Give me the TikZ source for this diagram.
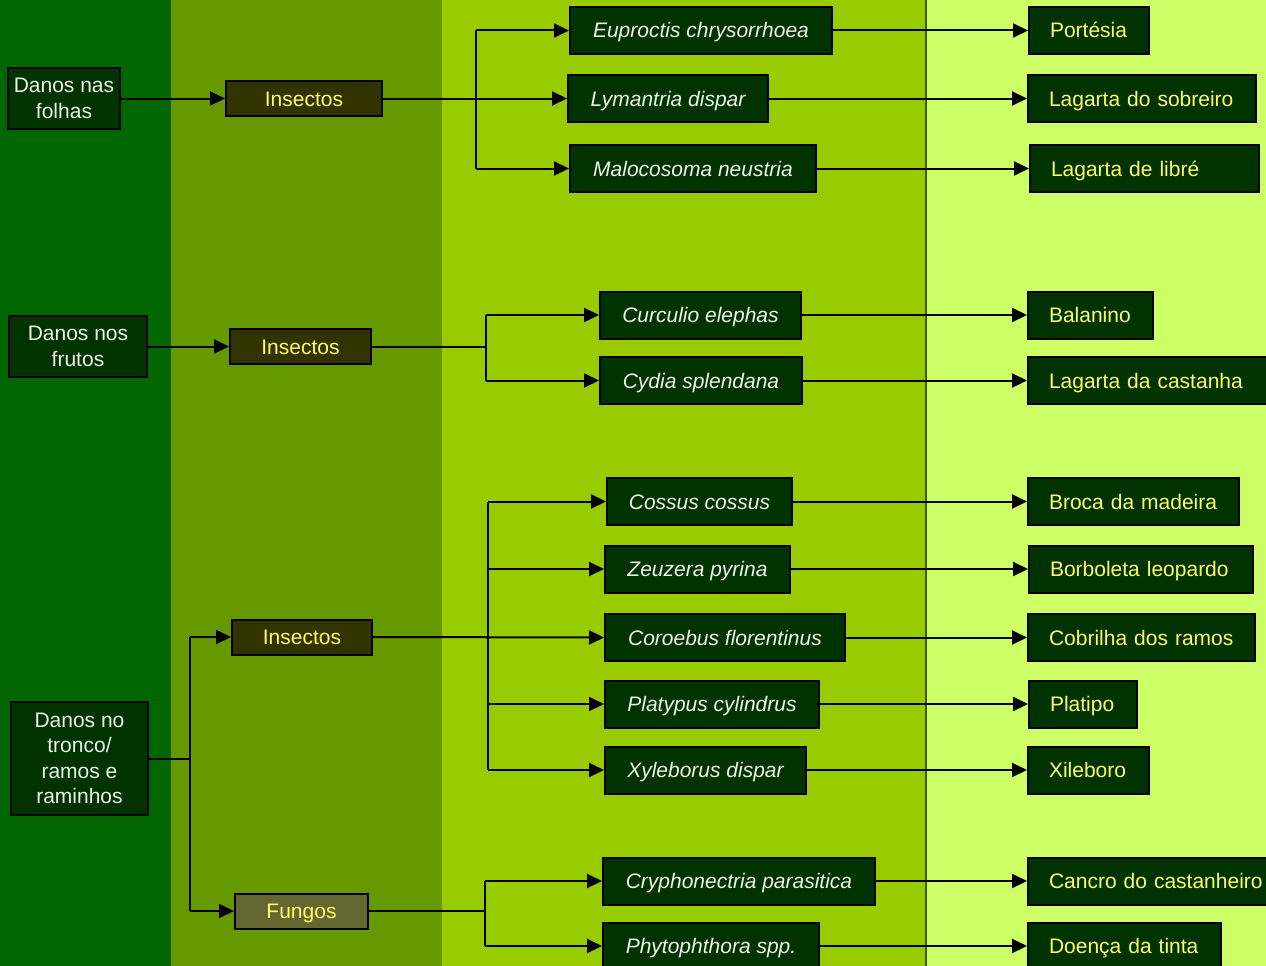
\documentclass[tikz,border=0pt]{standalone}
\usepackage{fontspec}
\setmainfont{Liberation Sans}
\usetikzlibrary{arrows.meta}
\definecolor{colA}{HTML}{006600}
\definecolor{colB}{HTML}{669900}
\definecolor{colC}{HTML}{99CC00}
\definecolor{colD}{HTML}{CCFF66}
\definecolor{boxg}{HTML}{003300}
\definecolor{boxi}{HTML}{333300}
\definecolor{boxf}{HTML}{666633}
\definecolor{txtw}{HTML}{EEF4E8}
\definecolor{txty}{HTML}{FFFF66}
\definecolor{divline}{HTML}{3D5C00}
\tikzset{
  bx/.style={draw=black, line width=2pt, inner sep=0pt, align=center,
    font=\fontsize{21}{25.5}\selectfont},
  one/.style={text height=15pt, text depth=0pt},
  lft/.style={bx, fill=boxg, text=txtw},
  ins/.style={bx, one, fill=boxi, text=txty, minimum height=35pt},
  fun/.style={bx, one, fill=boxf, text=txty, minimum height=35pt},
  spc/.style={bx, one, fill=boxg, text=txtw, minimum height=47pt, font=\fontsize{21}{25.5}\selectfont\itshape},
  com/.style={bx, one, fill=boxg, text=txty, minimum height=47pt, align=left, inner xsep=21pt, anchor=west},
  ln/.style={line width=2pt, draw=black},
  conn/.style={ln, -{Triangle[length=15pt,width=14pt]}}
}
\begin{document}
\begin{tikzpicture}[x=1pt,y=-1pt]
\clip (0,0) rectangle (1266,966);
% background columns
\fill[colA] (0,0) rectangle (171,966);
\fill[colB] (171,0) rectangle (442,966);
\fill[colC] (442,0) rectangle (926,966);
\fill[colD] (926,0) rectangle (1266,966);
\draw[divline, line width=1.2pt] (926,0) -- (926,966);

% left column
\node[lft, minimum width=112pt, minimum height=61pt] (f1) at (64,98.5) {Danos nas\\folhas};
\node[lft, minimum width=138pt, minimum height=61pt] (f2) at (78,346.5) {Danos nos\\frutos};
\node[lft, minimum width=137pt, minimum height=113pt] (f3) at (79.5,758.5) {Danos no\\tronco/\\ramos e\\raminhos};

% second column
\node[ins, minimum width=156pt] (i1) at (304,98.5) {Insectos};
\node[ins, minimum width=141pt] (i2) at (300.5,346.5) {Insectos};
\node[ins, minimum width=140pt] (i3) at (302,637) {Insectos};
\node[fun, minimum width=133pt] (g1) at (301.5,911) {Fungos};

% species
\node[spc, minimum width=262pt] (s1) at (701,30.5) {Euproctis chrysorrhoea};
\node[spc, minimum width=200pt] (s2) at (668,98.5) {Lymantria dispar};
\node[spc, minimum width=246pt] (s3) at (693,168.5) {Malocosoma neustria};
\node[spc, minimum width=201pt] (s4) at (700.5,315) {Curculio elephas};
\node[spc, minimum width=202pt] (s5) at (701,380.5) {Cydia splendana};
\node[spc, minimum width=185pt] (s6) at (699.5,501.5) {Cossus cossus};
\node[spc, minimum width=185pt] (s7) at (697.5,569) {Zeuzera pyrina};
\node[spc, minimum width=240pt] (s8) at (725,637.5) {Coroebus florentinus};
\node[spc, minimum width=214pt] (s9) at (712,704) {Platypus cylindrus};
\node[spc, minimum width=201pt] (s10) at (705.5,770) {Xyleborus dispar};
\node[spc, minimum width=272pt] (s11) at (739,881) {Cryphonectria parasitica};
\node[spc, minimum width=216pt] (s12) at (711,946) {Phytophthora spp.};

% common names (left-aligned text, west anchored)
\node[com, text width=78pt] (c1) at (1028,30.5) {\mbox{Portésia}};
\node[com, text width=186pt] (c2) at (1027,98.5) {\mbox{Lagarta do sobreiro}};
\node[com, text width=187pt] (c3) at (1029,168.5) {\mbox{Lagarta de libré}};
\node[com, text width=83pt] (c4) at (1027,315) {\mbox{Balanino}};
\node[com, text width=198pt] (c5) at (1027,380.5) {\mbox{Lagarta da castanha}};
\node[com, text width=169pt] (c6) at (1027,501.5) {\mbox{Broca da madeira}};
\node[com, text width=182pt] (c7) at (1028,569) {\mbox{Borboleta leopardo}};
\node[com, text width=185pt] (c8) at (1027,637.5) {\mbox{Cobrilha dos ramos}};
\node[com, text width=66pt] (c9) at (1028,704) {\mbox{Platipo}};
\node[com, text width=79pt] (c10) at (1027,770) {\mbox{Xileboro}};
\node[com, text width=216pt] (c11) at (1027,881) {\mbox{Cancro do castanheiro}};
\node[com, text width=151pt] (c12) at (1027,946) {\mbox{Doença da tinta}};

% branch coordinates
\coordinate (b1) at (476,0);
\coordinate (b2) at (486,0);
\coordinate (b3) at (488,0);
\coordinate (b4) at (485,0);
\coordinate (b0) at (190,0);

% group 1
\draw[conn] (f1.east) -- (i1.west);
\draw[conn] (i1.east) -- (s2.west);
\draw[ln] (b1 |- s1.west) -- (b1 |- s3.west);
\draw[conn] (b1 |- s1.west) -- (s1.west);
\draw[conn] (b1 |- s3.west) -- (s3.west);

% group 2
\draw[conn] (f2.east) -- (i2.west);
\draw[ln] (i2.east) -- (b2 |- i2.east);
\draw[ln] (b2 |- s4.west) -- (b2 |- s5.west);
\draw[conn] (b2 |- s4.west) -- (s4.west);
\draw[conn] (b2 |- s5.west) -- (s5.west);

% group 3
\draw[ln] (f3.east) -- (b0 |- f3.east);
\draw[ln] (b0 |- i3.west) -- (b0 |- g1.west);
\draw[conn] (b0 |- i3.west) -- (i3.west);
\draw[conn] (b0 |- g1.west) -- (g1.west);
\draw[conn] (i3.east) -- (s8.west);
\draw[ln] (b3 |- s6.west) -- (b3 |- s10.west);
\draw[conn] (b3 |- s6.west) -- (s6.west);
\draw[conn] (b3 |- s7.west) -- (s7.west);
\draw[conn] (b3 |- s9.west) -- (s9.west);
\draw[conn] (b3 |- s10.west) -- (s10.west);
\draw[ln] (g1.east) -- (b4 |- g1.east);
\draw[ln] (b4 |- s11.west) -- (b4 |- s12.west);
\draw[conn] (b4 |- s11.west) -- (s11.west);
\draw[conn] (b4 |- s12.west) -- (s12.west);

% species to common names
\draw[conn] (s1.east) -- (c1.west);
\draw[conn] (s2.east) -- (c2.west);
\draw[conn] (s3.east) -- (c3.west);
\draw[conn] (s4.east) -- (c4.west);
\draw[conn] (s5.east) -- (c5.west);
\draw[conn] (s6.east) -- (c6.west);
\draw[conn] (s7.east) -- (c7.west);
\draw[conn] (s8.east) -- (c8.west);
\draw[conn] (s9.east) -- (c9.west);
\draw[conn] (s10.east) -- (c10.west);
\draw[conn] (s11.east) -- (c11.west);
\draw[conn] (s12.east) -- (c12.west);
\end{tikzpicture}
\end{document}
